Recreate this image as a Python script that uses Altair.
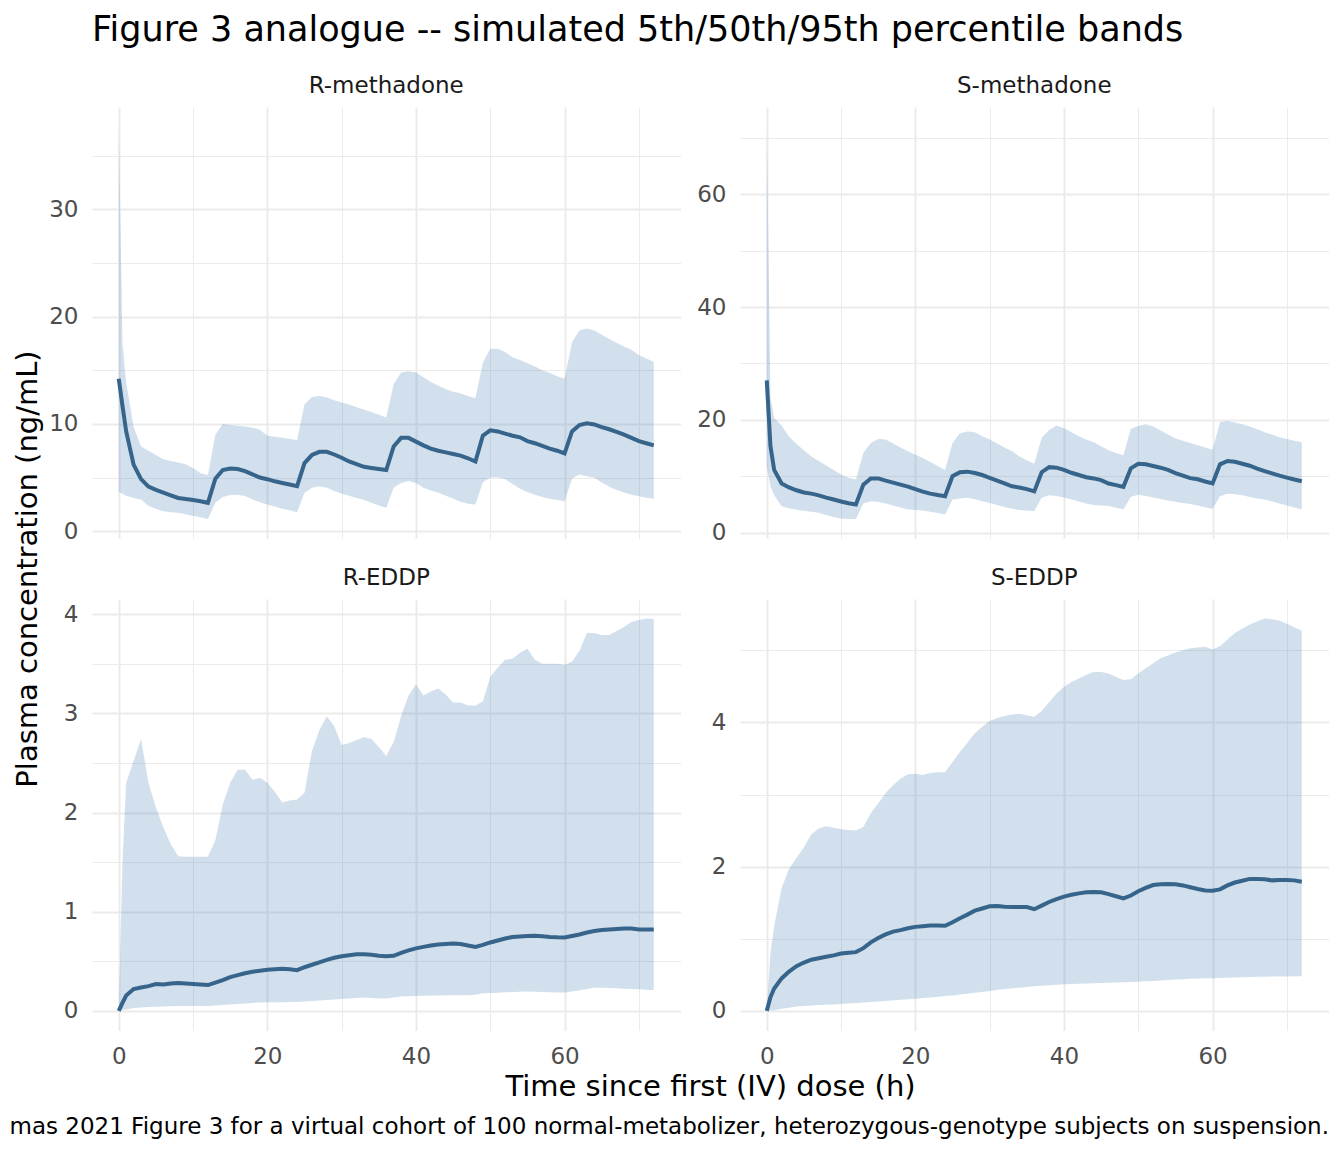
import altair as alt
import pandas as pd

# ---------------- data ----------------
TIME = [0, 0.5, 1, 2, 3, 4, 5, 6, 7, 8, 9, 10, 11, 12, 13, 14, 15, 16, 17, 18, 19, 20,
        21, 22, 23, 24, 25, 26, 27, 28, 29, 30, 31, 32, 33, 34, 35, 36, 37, 38, 39, 40,
        41, 42, 43, 44, 45, 46, 47, 48, 49, 50, 51, 52, 53, 54, 55, 56, 57, 58, 59, 60,
        61, 62, 63, 64, 65, 66, 67, 68, 69, 70, 71, 72]

PANELS = ["R-methadone", "S-methadone", "R-EDDP", "S-EDDP"]

R_METH_P50 = [14.2, 11.7,
              9.3, 6.2, 4.85, 4.15, 3.85, 3.6, 3.35, 3.1, 3.0, 2.9, 2.8, 2.65,
              4.9, 5.7, 5.85, 5.8, 5.6, 5.3, 5.0, 4.85, 4.65, 4.5, 4.35, 4.2,
              6.35, 7.1, 7.4, 7.4, 7.15, 6.85, 6.5, 6.25, 6.0, 5.9, 5.8, 5.7,
              7.9, 8.7, 8.7, 8.35, 8.0, 7.7, 7.5, 7.35, 7.2, 7.05, 6.8, 6.5,
              8.9, 9.4, 9.3, 9.1, 8.9, 8.75, 8.4, 8.2, 7.95, 7.7, 7.5, 7.25,
              9.3, 9.9, 10.05, 9.95, 9.7, 9.5, 9.25, 9.0, 8.7, 8.4, 8.2, 8.0]
R_METH_P95 = [37.7, 17.5,
              13.8, 9.7, 7.9, 7.5, 7.1, 6.7, 6.55, 6.4, 6.25, 5.9, 5.4, 5.25,
              9.0, 10.0, 9.9, 9.8, 9.75, 9.65, 9.45, 8.9, 8.8, 8.7, 8.6, 8.5,
              11.8, 12.5, 12.6, 12.45, 12.2, 12.0, 11.8, 11.55, 11.35, 11.1, 10.85, 10.6,
              13.7, 14.8, 14.9, 14.8, 14.35, 13.9, 13.55, 13.25, 13.0, 12.85, 12.6, 12.4,
              15.7, 17.0, 17.0, 16.7, 16.2, 15.95, 15.65, 15.35, 15.0, 14.75, 14.45, 14.2,
              17.6, 18.7, 18.9, 18.7, 18.3, 17.9, 17.55, 17.2, 16.9, 16.4, 16.1, 15.8]
R_METH_P05 = [3.65, 3.5,
              3.3, 3.1, 2.95, 2.35, 2.1, 1.85, 1.78, 1.72, 1.58, 1.43, 1.3, 1.15,
              2.65, 3.2, 3.38, 3.4, 3.28, 2.95, 2.7, 2.5, 2.3, 2.1, 1.95, 1.77,
              3.58, 4.05, 4.2, 4.05, 3.75, 3.5, 3.3, 3.1, 2.9, 2.65, 2.4, 2.18,
              4.05, 4.5, 4.67, 4.5, 4.05, 3.8, 3.6, 3.3, 3.05, 2.75, 2.55, 2.49,
              4.57, 4.98, 5.04, 4.85, 4.4, 3.95, 3.65, 3.4, 3.2, 3.02, 2.9, 2.8,
              4.88, 5.29, 5.13, 4.98, 4.55, 4.15, 3.85, 3.62, 3.4, 3.25, 3.12, 3.02]

S_METH_P50 = [27.0, 15.3,
              11.1, 8.7, 8.0, 7.5, 7.1, 6.9, 6.6, 6.2, 5.85, 5.5, 5.2, 4.97,
              8.5, 9.6, 9.6, 9.2, 8.85, 8.5, 8.15, 7.7, 7.25, 6.9, 6.65, 6.45,
              10.0, 10.7, 10.8, 10.55, 10.2, 9.7, 9.2, 8.7, 8.2, 8.0, 7.7, 7.3,
              10.7, 11.6, 11.5, 11.1, 10.6, 10.2, 9.8, 9.6, 9.3, 8.7, 8.4, 8.1,
              11.4, 12.2, 12.1, 11.8, 11.5, 11.1, 10.55, 10.1, 9.65, 9.45, 9.05, 8.7,
              12.1, 12.7, 12.55, 12.2, 11.85, 11.35, 10.9, 10.5, 10.1, 9.75, 9.4, 9.1]
S_METH_P95 = [72.0, 24.0,
              20.3, 19.0, 17.0, 15.7, 14.6, 13.5, 12.7, 11.9, 11.1, 10.3, 9.7, 9.4,
              14.1, 15.9, 16.6, 16.5, 15.8, 15.1, 14.4, 13.8, 13.2, 12.5, 11.8, 11.1,
              15.9, 17.6, 17.9, 17.8, 17.1, 16.5, 15.8, 15.1, 14.4, 13.5, 12.8, 12.2,
              16.8, 18.2, 19.0, 18.5, 17.8, 17.1, 16.5, 16.0, 15.3, 14.6, 14.1, 13.7,
              18.4, 18.9, 19.2, 18.8, 18.1, 17.4, 16.7, 16.3, 15.9, 15.5, 15.1, 14.7,
              19.6, 19.8, 19.5, 19.2, 18.8, 18.3, 17.8, 17.4, 16.9, 16.6, 16.3, 16.0]
S_METH_P05 = [11.8, 8.2,
              6.6, 4.65, 4.3, 4.05, 3.85, 3.7, 3.5, 3.1, 2.75, 2.5, 2.42, 2.42,
              5.15, 5.55, 5.45, 5.15, 4.8, 4.45, 4.1, 4.0, 3.9, 3.7, 3.45, 3.2,
              5.85, 6.05, 6.15, 5.9, 5.55, 5.25, 4.9, 4.55, 4.2, 4.0, 3.9, 3.8,
              6.15, 6.6, 6.5, 6.2, 5.85, 5.5, 5.15, 4.9, 4.8, 4.7, 4.4, 4.1,
              6.35, 6.7, 6.5, 6.2, 5.95, 5.7, 5.45, 5.25, 5.05, 4.8, 4.5, 4.2,
              6.45, 6.9, 6.8, 6.6, 6.3, 6.05, 5.85, 5.5, 5.15, 4.8, 4.45, 4.1]

R_EDDP_P50 = [0.0, 0.08,
              0.155, 0.22, 0.235, 0.25, 0.27, 0.265, 0.275, 0.28, 0.275, 0.27, 0.265, 0.26,
              0.285, 0.31, 0.34, 0.36, 0.38, 0.395, 0.405, 0.415, 0.42, 0.425, 0.42, 0.41,
              0.44, 0.465, 0.49, 0.515, 0.535, 0.55, 0.56, 0.57, 0.57, 0.565, 0.555, 0.55,
              0.555, 0.585, 0.61, 0.63, 0.645, 0.66, 0.67, 0.675, 0.68, 0.675, 0.66, 0.645,
              0.665, 0.69, 0.71, 0.73, 0.745, 0.75, 0.755, 0.758, 0.752, 0.746, 0.742, 0.74,
              0.755, 0.77, 0.79, 0.805, 0.815, 0.82, 0.825, 0.83, 0.83, 0.82, 0.82, 0.82]
R_EDDP_P95 = [0.0, 1.5,
              2.3, 2.52, 2.74, 2.3, 2.05, 1.85, 1.68, 1.56, 1.555, 1.555, 1.555, 1.555,
              1.72, 2.08, 2.3, 2.43, 2.43, 2.33, 2.35, 2.3, 2.21, 2.1, 2.12, 2.13,
              2.2, 2.62, 2.83, 2.97, 2.87, 2.68, 2.7, 2.73, 2.76, 2.74, 2.66, 2.57,
              2.71, 2.97, 3.18, 3.29, 3.18, 3.22, 3.25, 3.19, 3.11, 3.11, 3.08, 3.08,
              3.12, 3.37, 3.46, 3.54, 3.55, 3.61, 3.65, 3.54, 3.5, 3.5, 3.5, 3.49,
              3.52, 3.63, 3.81, 3.81, 3.79, 3.79, 3.83, 3.87, 3.92, 3.94, 3.955, 3.95]
R_EDDP_P05 = [0.0, 0.008,
              0.015, 0.028, 0.035, 0.038, 0.041, 0.044, 0.047, 0.05, 0.05, 0.05, 0.05, 0.05,
              0.055, 0.06, 0.065, 0.07, 0.075, 0.08, 0.084, 0.086, 0.087, 0.088, 0.089, 0.09,
              0.095, 0.1, 0.105, 0.11, 0.115, 0.12, 0.125, 0.13, 0.134, 0.13, 0.125, 0.126,
              0.135, 0.145, 0.148, 0.15, 0.152, 0.154, 0.156, 0.157, 0.158, 0.158, 0.158, 0.162,
              0.178, 0.181, 0.184, 0.187, 0.19, 0.193, 0.195, 0.193, 0.19, 0.188, 0.186, 0.185,
              0.195, 0.207, 0.22, 0.233, 0.233, 0.23, 0.227, 0.224, 0.221, 0.218, 0.214, 0.21]

S_EDDP_P50 = [0.0, 0.19,
              0.31, 0.45, 0.545, 0.62, 0.67, 0.71, 0.73, 0.75, 0.77, 0.795, 0.805, 0.815,
              0.87, 0.95, 1.01, 1.06, 1.1, 1.12, 1.145, 1.165, 1.175, 1.183, 1.185, 1.18,
              1.23, 1.285, 1.335, 1.39, 1.42, 1.45, 1.455, 1.445, 1.44, 1.44, 1.44, 1.41,
              1.46, 1.51, 1.55, 1.585, 1.61, 1.63, 1.645, 1.65, 1.645, 1.62, 1.59, 1.56,
              1.6, 1.66, 1.705, 1.745, 1.755, 1.76, 1.755, 1.74, 1.715, 1.69, 1.67, 1.665,
              1.685, 1.74, 1.78, 1.805, 1.83, 1.83, 1.825, 1.81, 1.815, 1.815, 1.81, 1.79]
S_EDDP_P95 = [0.0, 0.8,
              1.18, 1.7, 1.97, 2.12, 2.27, 2.45, 2.53, 2.56, 2.54, 2.52, 2.51, 2.5,
              2.55, 2.74, 2.88, 3.02, 3.13, 3.22, 3.28, 3.29, 3.27, 3.3, 3.31, 3.31,
              3.45, 3.59, 3.72, 3.85, 3.94, 4.02, 4.06, 4.09, 4.11, 4.12, 4.1, 4.08,
              4.16, 4.28, 4.4, 4.49, 4.56, 4.61, 4.66, 4.7, 4.7, 4.68, 4.63, 4.59,
              4.6, 4.68, 4.75, 4.82, 4.89, 4.93, 4.97, 5.0, 5.03, 5.04, 5.05, 5.01,
              5.06, 5.15, 5.24, 5.3, 5.36, 5.4, 5.44, 5.43, 5.41, 5.37, 5.32, 5.27]
S_EDDP_P05 = [0.0, 0.005,
              0.01, 0.03, 0.045, 0.06, 0.068, 0.075, 0.08, 0.085, 0.09, 0.096, 0.102, 0.108,
              0.115, 0.122, 0.13, 0.138, 0.146, 0.154, 0.162, 0.17, 0.178, 0.187, 0.196, 0.205,
              0.215, 0.226, 0.238, 0.25, 0.263, 0.277, 0.29, 0.302, 0.312, 0.322, 0.332, 0.342,
              0.35, 0.357, 0.363, 0.368, 0.373, 0.377, 0.381, 0.384, 0.387, 0.39, 0.393, 0.396,
              0.4, 0.405, 0.41, 0.416, 0.422, 0.428, 0.434, 0.44, 0.445, 0.448, 0.451, 0.454,
              0.457, 0.46, 0.463, 0.466, 0.47, 0.472, 0.474, 0.476, 0.477, 0.478, 0.479, 0.48]

# axis breaks (major + minor, ggplot-style)
X_BREAKS = [0, 10, 20, 30, 40, 50, 60, 70]
Y_BREAKS = {
    "R-methadone": [0, 5, 10, 15, 20, 25, 30, 35],
    "S-methadone": [0, 10, 20, 30, 40, 50, 60, 70],
    "R-EDDP": [0, 0.5, 1, 1.5, 2, 2.5, 3, 3.5, 4],
    "S-EDDP": [0, 1, 2, 3, 4, 5],
}
Y_MAJOR_STEP = {"R-methadone": 10, "S-methadone": 20, "R-EDDP": 1, "S-EDDP": 2}

TITLE = "Figure 3 analogue -- simulated 5th/50th/95th percentile bands"
X_TITLE = "Time since first (IV) dose (h)"
Y_TITLE = "Plasma concentration (ng/mL)"
CAPTION = ("mas 2021 Figure 3 for a virtual cohort of 100 normal-metabolizer, "
           "heterozygous-genotype subjects on suspension.")

SERIES = {
    "R-methadone": (R_METH_P05, R_METH_P50, R_METH_P95),
    "S-methadone": (S_METH_P05, S_METH_P50, S_METH_P95),
    "R-EDDP": (R_EDDP_P05, R_EDDP_P50, R_EDDP_P95),
    "S-EDDP": (S_EDDP_P05, S_EDDP_P50, S_EDDP_P95),
}
for k, arrs in SERIES.items():
    for a in arrs:
        if len(a) != len(TIME):
            raise ValueError(f"{k}: length {len(a)} != {len(TIME)}")

# ---------------- style ----------------
FONT = "DejaVu Sans"
GRID = "#EBEBEB"
RIBBON = "#4682B4"
LINE = "#36648B"
PW, PH = 588.5, 431.5


def y_domain(lo, hi):
    mn = min(lo)
    mx = max(hi)
    pad = 0.05 * (mx - mn)
    return [mn - pad, mx + pad]


def make_panel(name, show_x_labels, y_title=False, x_title=None):
    lo, med, hi = SERIES[name]
    df = pd.DataFrame({"t": TIME, "lo": lo, "med": med, "hi": hi})
    step = Y_MAJOR_STEP[name]

    x_kw = dict(
        values=X_BREAKS, grid=True, gridColor=GRID,
        gridWidth={"condition": {"test": "datum.value % 20 === 0", "value": 2}, "value": 1},
        domain=False, ticks=False, tickSize=0, labels=show_x_labels,
        labelExpr="datum.value % 20 === 0 ? '' + datum.value : ''",
        labelFont=FONT, labelFontSize=23, labelColor="#4D4D4D", labelPadding=15,
        title=None,
    )
    if x_title == "x":
        x_kw.update(title=X_TITLE, titleX=618, titleY=64.5, titleAlign="center",
                    titleBaseline="alphabetic", titleFont=FONT, titleFontSize=29,
                    titleFontWeight="normal", titleColor="#000000")
    elif x_title == "caption":
        x_kw.update(title=CAPTION, titleX=PW, titleY=102.5, titleAlign="right",
                    titleBaseline="alphabetic", titleFont=FONT, titleFontSize=23,
                    titleFontWeight="normal", titleColor="#000000", titleLimit=2000)

    y_kw = dict(
        values=Y_BREAKS[name], grid=True, gridColor=GRID,
        gridWidth={"condition": {"test": f"datum.value % {step} === 0", "value": 2}, "value": 1},
        domain=False, ticks=False, tickSize=0,
        labelExpr=f"datum.value % {step} === 0 ? '' + datum.value : ''",
        labelFont=FONT, labelFontSize=23, labelColor="#4D4D4D", labelPadding=14,
        title=None,
    )
    if y_title:
        y_kw.update(title=Y_TITLE, titleX=-55.3, titleY=461.5, titleAngle=270,
                    titleAlign="center", titleBaseline="alphabetic", titleFont=FONT,
                    titleFontSize=29, titleFontWeight="normal", titleColor="#000000",
                    titleLimit=2000)

    xs = alt.Scale(domain=[-3.6, 75.6], nice=False, zero=False)
    ys = alt.Scale(domain=y_domain(lo, hi), nice=False, zero=False)
    X = alt.X("t:Q", scale=xs, axis=alt.Axis(**x_kw))

    band = alt.Chart(df).mark_area(color=RIBBON, opacity=0.25).encode(
        x=X,
        y=alt.Y("lo:Q", scale=ys, axis=alt.Axis(**y_kw)),
        y2="hi:Q",
    )
    line = alt.Chart(df).mark_line(color=LINE, strokeWidth=4).encode(
        x=X,
        y=alt.Y("med:Q", scale=ys, axis=alt.Axis(**y_kw)),
    )
    return alt.layer(band, line).properties(
        width=PW, height=PH,
        title=alt.TitleParams(
            text=name, anchor="middle", frame="group", offset=-9,
            baseline="alphabetic", font=FONT, fontSize=23, fontWeight="normal",
            color="#1A1A1A",
        ),
    )


p1 = make_panel("R-methadone", False, y_title=True)
p2 = make_panel("S-methadone", False)
p3 = make_panel("R-EDDP", True, x_title="x")
p4 = make_panel("S-EDDP", True, x_title="caption")

chart = alt.concat(
    p1, p2, p3, p4, columns=2, spacing={"row": 60, "column": 59}, bounds="flush"
).properties(
    title=alt.TitleParams(
        text=TITLE, anchor="start", frame="group", offset=-1, baseline="alphabetic",
        font=FONT, fontSize=35, fontWeight="normal", color="#000000",
    ),
    padding={"left": 0, "top": 5, "right": 5, "bottom": 5},
    background="white",
).configure_view(stroke=None)

chart.save("out.html", embed_options={"renderer": "svg", "actions": False})
